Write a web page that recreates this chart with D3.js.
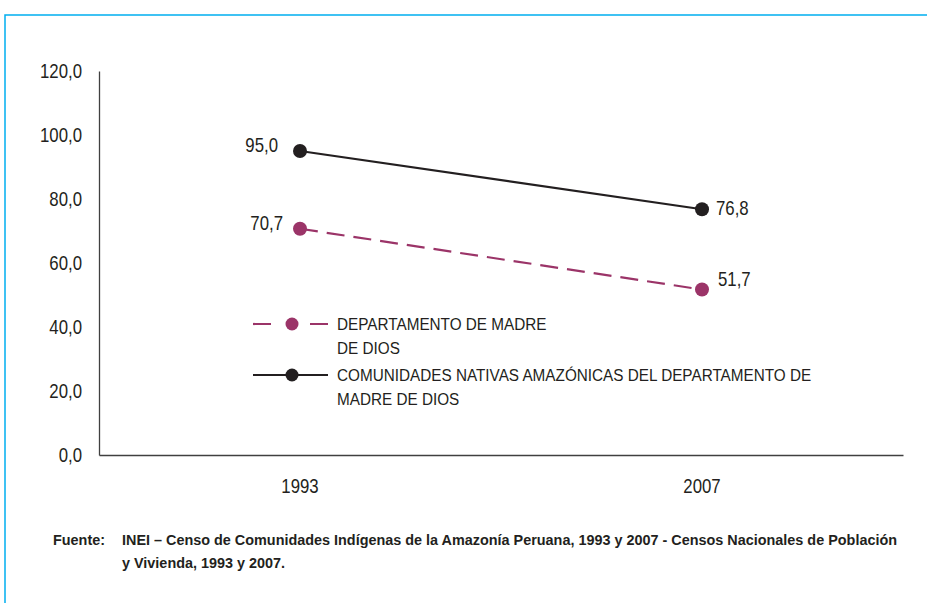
<!DOCTYPE html>
<html>
<head>
<meta charset="utf-8">
<script src="https://cdn.jsdelivr.net/npm/d3@7"></script>
<style>
  body { margin: 0; background: #fff; }
  svg { display: block; font-family: "Liberation Sans", Arial, sans-serif; }
</style>
</head>
<body>
<svg id="chart"></svg>
<script>
const width = 927;
const height = 603;

// data
const years = ["1993", "2007"];
const yTicks = [0, 20, 40, 60, 80, 100, 120];
const departamento = [70.7, 51.7];
const comunidades = [95.0, 76.8];
const seriesNames = ["DEPARTAMENTO DE MADRE|DE DIOS", "COMUNIDADES NATIVAS AMAZÓNICAS DEL DEPARTAMENTO DE|MADRE DE DIOS"];
const fuente = ["INEI – Censo de Comunidades Indígenas de la Amazonía Peruana, 1993 y 2007 - Censos Nacionales de Población",
                "y Vivienda, 1993 y 2007."];

const purple = "#9b3468";
const black = "#231f20";
const textColor = "#231f20";
const narrow = 0.84; // fake a narrow face by squeezing text horizontally

let svg = d3.select("#chart")
            .attr("width", width)
            .attr("height", height);

// squeezed text at (x, y)
function addText(parent, x, y, str, size, sx, anchor) {
  return parent.append("text")
               .attr("transform", `translate(${x},${y}) scale(${sx},1)`)
               .attr("font-size", size)
               .attr("fill", textColor)
               .attr("text-anchor", anchor || "start")
               .text(str);
}

// frame
svg.append("path")
   .attr("d", "M5,603 V15 H927")
   .attr("fill", "none")
   .attr("stroke", "#00aeef")
   .attr("stroke-width", 1.5);

let x = d3.scaleBand()
          .domain(years)
          .range([99, 903]);

let y = d3.scaleLinear()
          .domain([0, 120])
          .range([455, 71]);

const fmt = d => d3.format(".1f")(d).replace(".", ",");

// y axis
let yAxis = svg.append("g")
               .attr("transform", "translate(99,0)")
               .call(d3.axisLeft(y).tickValues(yTicks).tickSize(0).tickFormat(fmt));
yAxis.select(".domain").attr("stroke", "#404040").attr("stroke-width", 1.3);
yAxis.selectAll("text")
     .attr("font-size", 20)
     .attr("fill", textColor)
     .attr("x", -17 / narrow)
     .attr("dy", "0.33em")
     .attr("transform", `scale(${narrow},1)`);

// x axis
let xAxis = svg.append("g")
               .attr("transform", "translate(0,455)")
               .call(d3.axisBottom(x).tickSize(0).tickPadding(24));
xAxis.select(".domain").attr("stroke", "#404040").attr("stroke-width", 1.3);
xAxis.selectAll("text")
     .attr("font-size", 20)
     .attr("fill", textColor)
     .attr("transform", `scale(${narrow},1)`);

let cx = i => x(years[i]) + x.bandwidth() / 2;

let line = d3.line()
             .x((d, i) => cx(i))
             .y(d => y(d));

function drawSeries(values, color, dash, labelPos) {
  svg.append("path")
     .datum(values)
     .attr("d", line)
     .attr("fill", "none")
     .attr("stroke", color)
     .attr("stroke-width", 2.2)
     .attr("stroke-dasharray", dash);

  svg.selectAll(null)
     .data(values)
     .enter()
     .append("circle")
       .attr("cx", (d, i) => cx(i))
       .attr("cy", d => y(d))
       .attr("r", 7)
       .attr("fill", color);

  values.forEach((d, i) => {
    addText(svg, cx(i) + labelPos[i][0], y(d) + labelPos[i][1], fmt(d), 20, narrow, i === 0 ? "end" : "start");
  });
}

drawSeries(departamento, purple, "18,9", [[-17, 1], [16, -4]]);
drawSeries(comunidades, black, null, [[-22, 1], [14, 6]]);

// legend
let legendItems = [
  { name: seriesNames[0], color: purple, dash: "18,39", y: 324 },
  { name: seriesNames[1], color: black, dash: null, y: 375 }
];

let legend = svg.append("g");

legendItems.forEach(item => {
  legend.append("line")
        .attr("x1", 253).attr("x2", 328)
        .attr("y1", item.y).attr("y2", item.y)
        .attr("stroke", item.color)
        .attr("stroke-width", 2.2)
        .attr("stroke-dasharray", item.dash);
  legend.append("circle")
        .attr("cx", 292).attr("cy", item.y)
        .attr("r", 6.5)
        .attr("fill", item.color);
  item.name.split("|").forEach((s, i) => {
    addText(legend, 337, item.y + 6 + i * 23.5, s, 17, 0.9);
  });
});

// source
let src = svg.append("g").attr("font-weight", "bold");
addText(src, 53, 545, "Fuente:", 15.5, 0.93);
fuente.forEach((s, i) => {
  addText(src, 122, 545 + i * 23, s, 15.5, 0.93);
});
</script>
</body>
</html>
